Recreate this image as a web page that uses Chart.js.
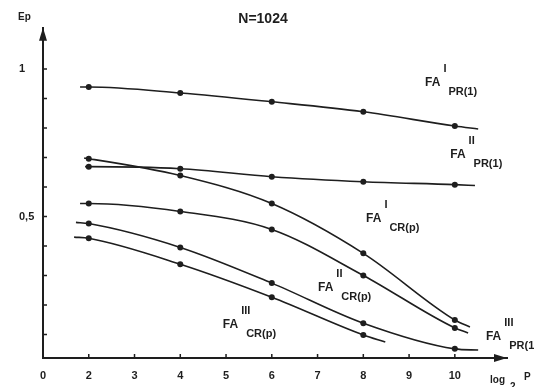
<!DOCTYPE html>
<html>
<head>
<meta charset="utf-8">
<script src="https://cdn.jsdelivr.net/npm/chart.js@4.4.1/dist/chart.umd.min.js"></script>
<style>
    html, body { margin: 0; padding: 0; background: #fff; }
    #wrap { width: 534px; height: 387px; }
</style>
</head>
<body>
<div id="wrap"><canvas id="myLineChart"></canvas></div>
<script>
// curves: [log2 P, Ep]; points at whole x get a marker
const pr1_I = [[1.81, 0.939], [2, 0.939], [4, 0.919], [6, 0.889], [8, 0.855], [10, 0.807], [10.51, 0.797]];
const pr1_II = [[1.92, 0.669], [2, 0.669], [4, 0.662], [6, 0.635], [8, 0.618], [10, 0.608], [10.44, 0.605]];
const crp_I = [[1.9, 0.698], [2, 0.696], [4, 0.639], [6, 0.544], [8, 0.375], [10, 0.149], [10.33, 0.125]];
const crp_II = [[1.81, 0.544], [2, 0.544], [4, 0.517], [6, 0.456], [8, 0.300], [10, 0.122], [10.29, 0.105]];
const pr1_III = [[1.72, 0.48], [2, 0.476], [4, 0.395], [6, 0.274], [8, 0.138], [10, 0.051], [10.51, 0.047]];
const crp_III = [[1.68, 0.43], [2, 0.426], [4, 0.338], [6, 0.226], [8, 0.098], [8.48, 0.074]];

const x_ticks = [1, 2, 3, 4, 5, 6, 7, 8, 9, 10];
const x_tick_labels = ['0', '2', '3', '4', '5', '6', '7', '8', '9', '10'];
const y_ticks = [0.1, 0.2, 0.3, 0.4, 0.5, 0.6, 0.7, 0.8, 0.9, 1];
const y_tick_labels = ['', '', '', '', '0,5', '', '', '', '', '1'];

// curve names: [roman numeral, subscript, x, y] (FA sits at x,y in data units)
const curve_names = [
    ['I', 'PR(1)', 9.35, 0.953],
    ['II', 'PR(1)', 9.90, 0.709],
    ['I', 'CR(p)', 8.06, 0.493],
    ['II', 'CR(p)', 7.01, 0.257],
    ['III', 'CR(p)', 4.93, 0.132],
    ['III', 'PR(1)', 10.68, 0.091]
];

const FONT = "'Liberation Sans', Arial, sans-serif";
const INK = '#1e1e1e';

function make_dataset(points) {
    return {
        data: points.map(p => ({x: p[0], y: p[1]})),
        borderColor: INK,
        backgroundColor: INK,
        borderWidth: 1.6,
        cubicInterpolationMode: 'monotone',
        pointRadius: ctx => Number.isInteger(ctx.raw.x) ? 3 : 0,
        pointBorderWidth: 0,
        pointHoverRadius: 0
    };
}

const decor = {
    id: 'decor',
    afterDraw(chart) {
        const c = chart.ctx;
        const xs = chart.scales.x;
        const ys = chart.scales.y;
        const a = chart.chartArea;
        c.save();
        c.fillStyle = INK;
        c.strokeStyle = INK;

        // inward tick marks
        c.lineWidth = 1.5;
        c.beginPath();
        x_ticks.forEach(v => {
            if (v === 1) return;
            const px = xs.getPixelForValue(v);
            c.moveTo(px, a.bottom);
            c.lineTo(px, a.bottom - 4);
        });
        y_ticks.forEach(v => {
            const py = ys.getPixelForValue(v);
            c.moveTo(a.left, py);
            c.lineTo(a.left + 4, py);
        });
        c.stroke();

        // arrow heads
        c.beginPath();
        c.moveTo(a.left, a.top);
        c.lineTo(a.left - 4, a.top + 13);
        c.lineTo(a.left + 4, a.top + 13);
        c.closePath();
        c.fill();
        c.beginPath();
        c.moveTo(a.right, a.bottom);
        c.lineTo(a.right - 13, a.bottom - 4);
        c.lineTo(a.right - 13, a.bottom + 4);
        c.closePath();
        c.fill();

        // axis names
        c.textBaseline = 'middle';
        c.textAlign = 'left';
        c.font = 'bold 10px ' + FONT;
        c.fillText('Ep', 18, 17);
        c.fillText('log', 490, 380);
        c.fillText('2', 510, 387);
        c.fillText('P', 524, 377);

        // curve names
        curve_names.forEach(([num, sub, vx, vy]) => {
            const px = xs.getPixelForValue(vx);
            const py = ys.getPixelForValue(vy);
            c.font = 'bold 12px ' + FONT;
            c.fillText('FA', px, py);
            const w = c.measureText('FA').width;
            c.font = 'bold 11px ' + FONT;
            c.fillText(num, px + w + 3, py - 14);
            c.fillText(sub, px + w + 8, py + 9);
        });
        c.restore();
    }
};

window.addEventListener('load', function () {
    const ctx = document.getElementById('myLineChart').getContext('2d');
    new Chart(ctx, {
        type: 'line',
        data: {
            datasets: [pr1_I, pr1_II, crp_I, crp_II, pr1_III, crp_III].map(make_dataset)
        },
        options: {
            responsive: true,
            maintainAspectRatio: false,
            animation: false,
            events: [],
            layout: {
                padding: {left: 19, right: 27, top: 0, bottom: 0}
            },
            plugins: {
                legend: {display: false},
                tooltip: {enabled: false},
                title: {
                    display: true,
                    text: 'N=1024',
                    color: INK,
                    font: {family: FONT, size: 14, weight: 'bold'},
                    padding: {top: 11, bottom: 0}
                }
            },
            scales: {
                x: {
                    type: 'linear',
                    min: 1,
                    max: 11.14,
                    afterBuildTicks: s => { s.ticks = x_ticks.map(v => ({value: v})); },
                    afterFit: s => { s.height = 29; },
                    grid: {display: true, drawOnChartArea: false, drawTicks: false},
                    border: {display: true, color: INK, width: 2},
                    ticks: {
                        autoSkip: false,
                        maxRotation: 0,
                        padding: 11,
                        color: INK,
                        font: {family: FONT, size: 11, weight: 'bold'},
                        callback: v => x_tick_labels[x_ticks.indexOf(v)]
                    }
                },
                y: {
                    min: 0.02,
                    max: 1.14,
                    afterBuildTicks: s => { s.ticks = y_ticks.map(v => ({value: v})); },
                    afterFit: s => { s.width = 24; },
                    grid: {display: true, drawOnChartArea: false, drawTicks: false},
                    border: {display: true, color: INK, width: 2},
                    ticks: {
                        crossAlign: 'far',
                        color: INK,
                        font: {family: FONT, size: 11, weight: 'bold'},
                        callback: v => y_tick_labels[y_ticks.indexOf(v)]
                    }
                }
            }
        },
        plugins: [decor]
    });
});
</script>
</body>
</html>
